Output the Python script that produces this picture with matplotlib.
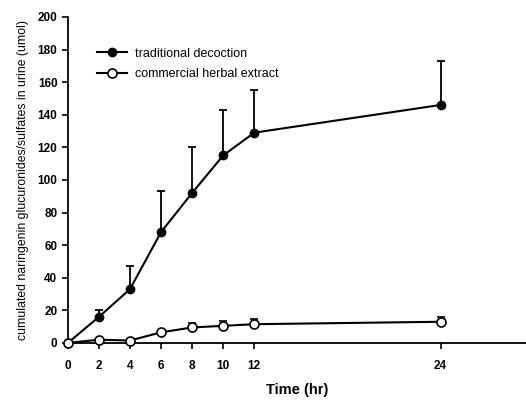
import matplotlib
matplotlib.use("Agg")
import matplotlib.pyplot as plt
from matplotlib.lines import Line2D

time = [0, 2, 4, 6, 8, 10, 12, 24]
trad = [0, 16, 33, 68, 92, 115, 129, 146]
trad_err = [0, 4, 14, 25, 28, 28, 26, 27]
comm = [0, 2, 1.5, 6.5, 9.5, 10.5, 11.5, 13]
comm_err = [0, 0, 0, 0, 3, 3, 3, 3]
xticks = [0, 2, 4, 6, 8, 10, 12, 24]
yticks = [0, 20, 40, 60, 80, 100, 120, 140, 160, 180, 200]
labels = ['traditional decoction', 'commercial herbal extract']

plt.rcParams['font.family'] = ['Liberation Sans', 'DejaVu Sans']

fig = plt.figure(figsize=(5.26, 4.03), dpi=100)
ax = fig.add_axes([0.129, 0.149, 0.871, 0.809])

ax.errorbar(time, trad, yerr=[[0]*len(trad_err), trad_err], color='black', lw=1.5,
            marker='o', ms=6, mfc='black', mec='black', capsize=3, elinewidth=1.3,
            capthick=1.3, clip_on=False, zorder=3)
ax.errorbar(time, comm, yerr=[[0]*len(comm_err), comm_err], color='black', lw=1.5,
            marker='o', ms=6.5, mfc='white', mec='black', mew=1.2, capsize=3, elinewidth=1.3,
            capthick=1.3, clip_on=False, zorder=4)

ax.set_xlim(0, 29.5)
ax.set_ylim(0, 200)
ax.set_xticks(xticks)
ax.set_yticks(yticks)
ax.spines['top'].set_visible(False)
ax.spines['right'].set_visible(False)
ax.spines['left'].set_linewidth(1.3)
ax.spines['bottom'].set_linewidth(1.3)
ax.tick_params(direction='out', length=4, width=1.2, labelsize=8.5)
for lab in ax.get_xticklabels() + ax.get_yticklabels():
    lab.set_fontweight('bold')
ax.tick_params(axis='x', pad=8)

ax.set_xlabel('Time (hr)', fontsize=10.5, fontweight='bold', labelpad=8)
ax.set_ylabel('cumulated naringenin glucuronides/sulfates in urine (umol)',
              fontsize=8.8, labelpad=6)

handles = [
    Line2D([], [], color='black', lw=1.5, marker='o', ms=6, mfc='black', mec='black'),
    Line2D([], [], color='black', lw=1.5, marker='o', ms=6.5, mfc='white', mec='black', mew=1.2),
]
leg = ax.legend(handles, labels, loc='upper left', bbox_to_anchor=(0.04, 0.94), frameon=False,
                fontsize=9, handlelength=2.4, handletextpad=0.6, labelspacing=0.7)

fig.savefig('out.png', dpi=100)
